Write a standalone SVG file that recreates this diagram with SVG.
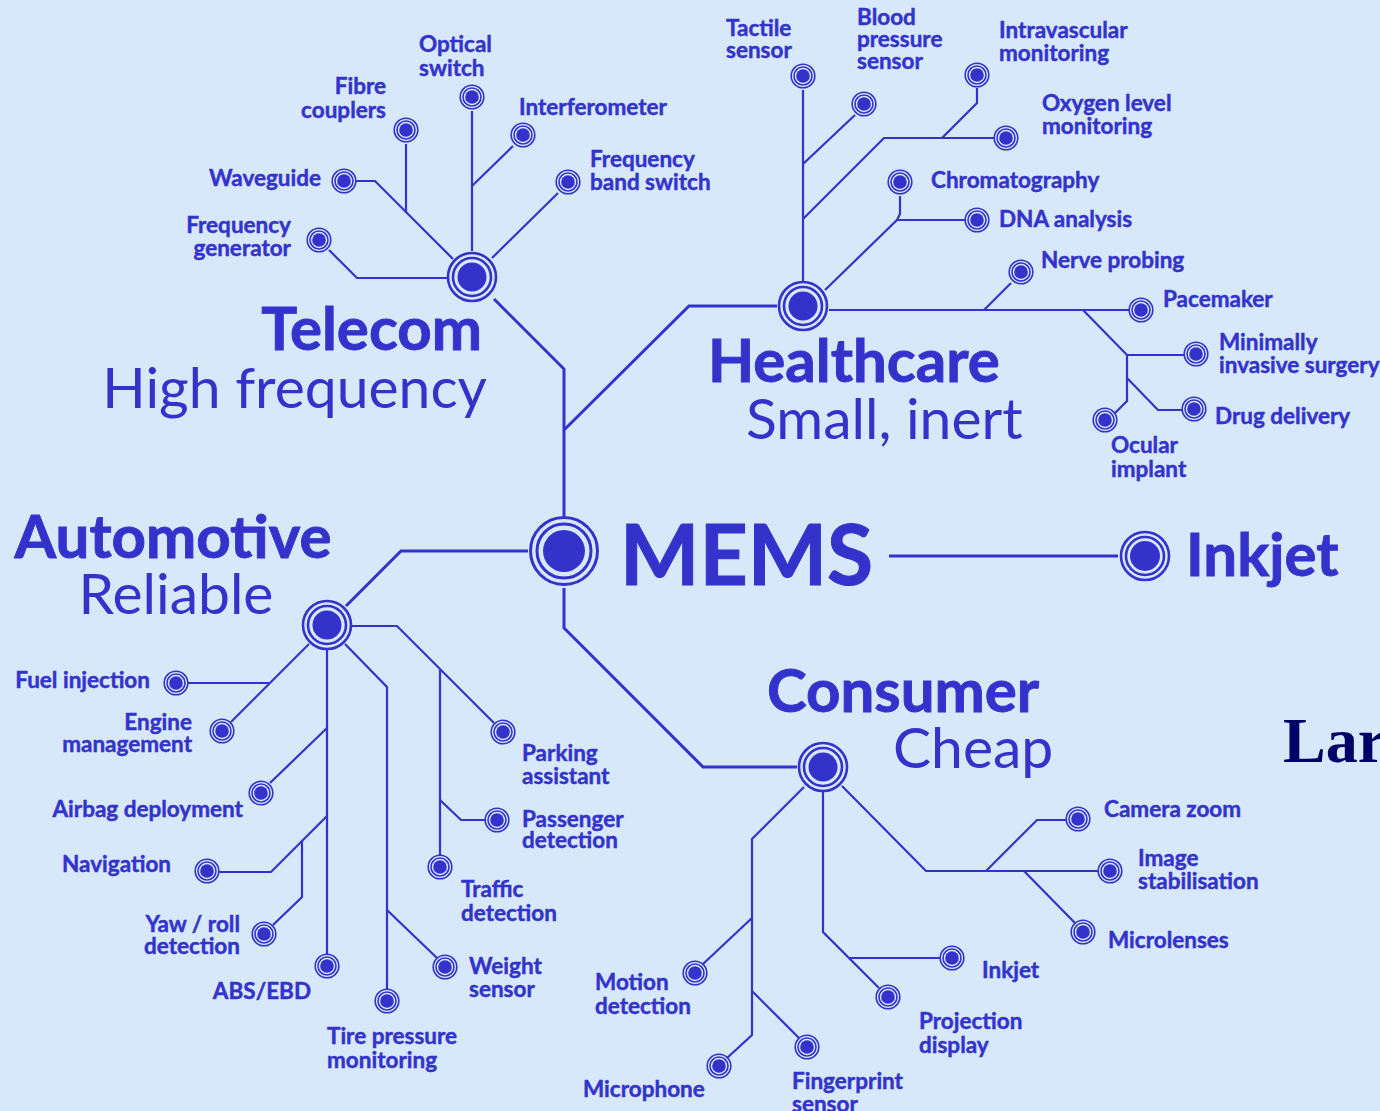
<svg xmlns="http://www.w3.org/2000/svg" xmlns:xlink="http://www.w3.org/1999/xlink" width="1380" height="1111" viewBox="0 0 1380 1111">
  <style>
    .wire { fill: none; stroke: #3333cc; stroke-width: 2.2; stroke-linejoin: miter; }
    .trunk { fill: none; stroke: #3333cc; stroke-width: 3; }
    .lbl { font-family: Lato, "Open Sans", "Liberation Sans", sans-serif; font-weight: 700; font-size: 22.5px; fill: #3333cc; stroke: #3333cc; stroke-width: 0.45; }
    .end { text-anchor: end; }
    .head { font-family: Lato, "Open Sans", "Liberation Sans", sans-serif; font-weight: 700; font-size: 60px; fill: #3333cc; stroke: #3333cc; stroke-width: 0.9; }
    .sub { font-family: Lato, "Open Sans", "Liberation Sans", sans-serif; font-weight: 400; font-size: 57px; fill: #3333cc; }
    .ring { fill: none; stroke: #3333cc; }
    .core { fill: #3333cc; }
  </style>
  <defs>
    <!-- leaf marker: two thin rings around a dot -->
    <g id="dot">
      <circle class="ring" r="11.8" stroke-width="1.6"/>
      <circle class="ring" r="9" stroke-width="1.6"/>
      <circle class="core" r="6.8"/>
    </g>
    <!-- sector hub -->
    <g id="hub">
      <circle class="ring" r="24" stroke-width="2.6"/>
      <circle class="ring" r="19" stroke-width="2.6"/>
      <circle class="core" r="14.5"/>
    </g>
    <!-- central hub -->
    <g id="core-hub">
      <circle class="ring" r="33.5" stroke-width="3"/>
      <circle class="ring" r="27" stroke-width="3"/>
      <circle class="core" r="21"/>
    </g>
  </defs>

  <rect width="1380" height="1111" fill="#d6e8f9"/>

  <!-- connectors -->
  <g id="connectors">
    <!-- trunks from MEMS -->
    <path class="trunk" d="M494,299 L564,369 V516"/>
    <path class="trunk" d="M564,430 L689,306 H777"/>
    <path class="trunk" d="M528,551 H401 L346,606"/>
    <path class="trunk" d="M564,588 V628 L703,767 H797"/>
    <path class="trunk" d="M889,556 H1118"/>

    <!-- telecom -->
    <path class="wire" d="M472,111 V251"/>
    <path class="wire" d="M513,146 L472,186"/>
    <path class="wire" d="M558,193 L492,258"/>
    <path class="wire" d="M406,144 V213"/>
    <path class="wire" d="M356,181 H375 L453,259"/>
    <path class="wire" d="M329,250 L357,278 H447"/>

    <!-- healthcare -->
    <path class="wire" d="M803,90 V281"/>
    <path class="wire" d="M855,115 L803,164"/>
    <path class="wire" d="M977,88 V103 L942,138"/>
    <path class="wire" d="M994,138 H884 L803,219"/>
    <path class="wire" d="M900,196 V214 L897,220 H965"/>
    <path class="wire" d="M897,220 L825,290"/>
    <path class="wire" d="M1011,283 L984,310"/>
    <path class="wire" d="M829,310 H1129"/>
    <path class="wire" d="M1083,310 L1127,355 H1184"/>
    <path class="wire" d="M1127,355 V401 L1115,413"/>
    <path class="wire" d="M1127,378 L1158,410 H1182"/>

    <!-- automotive -->
    <path class="wire" d="M352,626 H397 L494,723"/>
    <path class="wire" d="M440,670 V855"/>
    <path class="wire" d="M440,800 L461,820 H485"/>
    <path class="wire" d="M309,644 L231,722"/>
    <path class="wire" d="M269,683 H188"/>
    <path class="wire" d="M327,650 V954"/>
    <path class="wire" d="M327,728 L270,783"/>
    <path class="wire" d="M327,816 L271,872 H219"/>
    <path class="wire" d="M302,841 V897 L273,925"/>
    <path class="wire" d="M345,644 L387,687 V990"/>
    <path class="wire" d="M387,910 L437,958"/>

    <!-- consumer -->
    <path class="wire" d="M804,787 L752,839 V1035 L727,1058"/>
    <path class="wire" d="M752,918 L703,964"/>
    <path class="wire" d="M752,991 L799,1038"/>
    <path class="wire" d="M823,792 V932 L879,988"/>
    <path class="wire" d="M850,958 H940"/>
    <path class="wire" d="M842,786 L926,871 H1098"/>
    <path class="wire" d="M986,871 L1037,820 H1066"/>
    <path class="wire" d="M1024,871 L1075,923"/>
  </g>

  <!-- centre -->
  <g id="mems">
    <use xlink:href="#core-hub" x="564" y="551"/>
    <text x="620" y="585" font-family="Lato, 'Open Sans', sans-serif" font-weight="700" font-size="84" fill="#3333cc" stroke="#3333cc" stroke-width="1">MEMS</text>
  </g>
  <g id="inkjet">
    <circle class="ring" cx="1145" cy="556" r="24" stroke-width="2.6"/>
    <circle class="ring" cx="1145" cy="556" r="19" stroke-width="2.6"/>
    <circle class="core" cx="1145" cy="556" r="15"/>
    <text x="1186" y="576" class="head">Inkjet</text>
  </g>
  <g id="large">
    <text x="1283" y="762" font-family="'Liberation Serif', serif" font-weight="700" font-size="64" fill="#000066">Lar</text>
  </g>

  <!-- telecom sector -->
  <g id="telecom">
    <use xlink:href="#hub" x="472" y="277"/>
    <text class="head end" x="482" y="350">Telecom</text>
    <text class="sub end" x="487" y="408">High frequency</text>
  </g>
  <g id="optical-switch">
    <use xlink:href="#dot" x="472" y="97"/>
    <text class="lbl"><tspan x="419" y="52">Optical</tspan><tspan x="419" y="76">switch</tspan></text>
  </g>
  <g id="fibre-couplers">
    <use xlink:href="#dot" x="406" y="130"/>
    <text class="lbl end"><tspan x="386" y="94">Fibre</tspan><tspan x="386" y="118">couplers</tspan></text>
  </g>
  <g id="interferometer">
    <use xlink:href="#dot" x="523" y="135"/>
    <text class="lbl" x="519" y="115">Interferometer</text>
  </g>
  <g id="frequency-band-switch">
    <use xlink:href="#dot" x="568" y="182"/>
    <text class="lbl"><tspan x="590" y="167">Frequency</tspan><tspan x="590" y="190">band switch</tspan></text>
  </g>
  <g id="waveguide">
    <use xlink:href="#dot" x="344" y="181"/>
    <text class="lbl end" x="321" y="186">Waveguide</text>
  </g>
  <g id="frequency-generator">
    <use xlink:href="#dot" x="319" y="240"/>
    <text class="lbl end"><tspan x="291" y="233">Frequency</tspan><tspan x="291" y="256">generator</tspan></text>
  </g>

  <!-- healthcare sector -->
  <g id="healthcare">
    <use xlink:href="#hub" x="803" y="306"/>
    <text class="head" x="708" y="382">Healthcare</text>
    <text class="sub" x="746" y="439">Small, inert</text>
  </g>
  <g id="tactile-sensor">
    <use xlink:href="#dot" x="803" y="76"/>
    <text class="lbl"><tspan x="726" y="36">Tactile</tspan><tspan x="726" y="58">sensor</tspan></text>
  </g>
  <g id="blood-pressure-sensor">
    <use xlink:href="#dot" x="864" y="104"/>
    <text class="lbl"><tspan x="857" y="25">Blood</tspan><tspan x="857" y="47">pressure</tspan><tspan x="857" y="69">sensor</tspan></text>
  </g>
  <g id="intravascular-monitoring">
    <use xlink:href="#dot" x="977" y="75"/>
    <text class="lbl"><tspan x="999" y="38">Intravascular</tspan><tspan x="999" y="61">monitoring</tspan></text>
  </g>
  <g id="oxygen-level-monitoring">
    <use xlink:href="#dot" x="1006" y="138"/>
    <text class="lbl"><tspan x="1042" y="111">Oxygen level</tspan><tspan x="1042" y="134">monitoring</tspan></text>
  </g>
  <g id="chromatography">
    <use xlink:href="#dot" x="900" y="182"/>
    <text class="lbl" x="931" y="188">Chromatography</text>
  </g>
  <g id="dna-analysis">
    <use xlink:href="#dot" x="977" y="220"/>
    <text class="lbl" x="999" y="227">DNA analysis</text>
  </g>
  <g id="nerve-probing">
    <use xlink:href="#dot" x="1021" y="272"/>
    <text class="lbl" x="1041" y="268">Nerve probing</text>
  </g>
  <g id="pacemaker">
    <use xlink:href="#dot" x="1141" y="310"/>
    <text class="lbl" x="1163" y="307">Pacemaker</text>
  </g>
  <g id="minimally-invasive-surgery">
    <use xlink:href="#dot" x="1196" y="354"/>
    <text class="lbl"><tspan x="1219" y="350">Minimally</tspan><tspan x="1219" y="373">invasive surgery</tspan></text>
  </g>
  <g id="drug-delivery">
    <use xlink:href="#dot" x="1194" y="409"/>
    <text class="lbl" x="1215" y="424">Drug delivery</text>
  </g>
  <g id="ocular-implant">
    <use xlink:href="#dot" x="1105" y="420"/>
    <text class="lbl"><tspan x="1111" y="453">Ocular</tspan><tspan x="1111" y="477">implant</tspan></text>
  </g>

  <!-- automotive sector -->
  <g id="automotive">
    <use xlink:href="#hub" x="327" y="625"/>
    <text class="head" x="173" y="558" text-anchor="middle">Automotive</text>
    <text class="sub" x="176" y="614" text-anchor="middle">Reliable</text>
  </g>
  <g id="fuel-injection">
    <use xlink:href="#dot" x="176" y="683"/>
    <text class="lbl end" x="150" y="688">Fuel injection</text>
  </g>
  <g id="engine-management">
    <use xlink:href="#dot" x="222" y="731"/>
    <text class="lbl end"><tspan x="192" y="730">Engine</tspan><tspan x="192" y="752">management</tspan></text>
  </g>
  <g id="airbag-deployment">
    <use xlink:href="#dot" x="261" y="793"/>
    <text class="lbl end" x="243" y="817">Airbag deployment</text>
  </g>
  <g id="navigation">
    <use xlink:href="#dot" x="207" y="871"/>
    <text class="lbl end" x="171" y="872">Navigation</text>
  </g>
  <g id="yaw-roll-detection">
    <use xlink:href="#dot" x="264" y="934"/>
    <text class="lbl end"><tspan x="240" y="932">Yaw / roll</tspan><tspan x="240" y="954">detection</tspan></text>
  </g>
  <g id="abs-ebd">
    <use xlink:href="#dot" x="327" y="966"/>
    <text class="lbl end" x="311" y="999">ABS/EBD</text>
  </g>
  <g id="tire-pressure-monitoring">
    <use xlink:href="#dot" x="387" y="1001"/>
    <text class="lbl"><tspan x="327" y="1044">Tire pressure</tspan><tspan x="327" y="1068">monitoring</tspan></text>
  </g>
  <g id="weight-sensor">
    <use xlink:href="#dot" x="445" y="967"/>
    <text class="lbl"><tspan x="469" y="974">Weight</tspan><tspan x="469" y="997">sensor</tspan></text>
  </g>
  <g id="traffic-detection">
    <use xlink:href="#dot" x="440" y="867"/>
    <text class="lbl"><tspan x="461" y="897">Traffic</tspan><tspan x="461" y="921">detection</tspan></text>
  </g>
  <g id="passenger-detection">
    <use xlink:href="#dot" x="497" y="820"/>
    <text class="lbl"><tspan x="522" y="827">Passenger</tspan><tspan x="522" y="848">detection</tspan></text>
  </g>
  <g id="parking-assistant">
    <use xlink:href="#dot" x="503" y="732"/>
    <text class="lbl"><tspan x="522" y="761">Parking</tspan><tspan x="522" y="784">assistant</tspan></text>
  </g>

  <!-- consumer sector -->
  <g id="consumer">
    <use xlink:href="#hub" x="823" y="767"/>
    <text class="head" x="767" y="712">Consumer</text>
    <text class="sub" x="893" y="768">Cheap</text>
  </g>
  <g id="camera-zoom">
    <use xlink:href="#dot" x="1078" y="819"/>
    <text class="lbl" x="1104" y="817">Camera zoom</text>
  </g>
  <g id="image-stabilisation">
    <use xlink:href="#dot" x="1110" y="871"/>
    <text class="lbl"><tspan x="1138" y="866">Image</tspan><tspan x="1138" y="889">stabilisation</tspan></text>
  </g>
  <g id="microlenses">
    <use xlink:href="#dot" x="1083" y="932"/>
    <text class="lbl" x="1108" y="948">Microlenses</text>
  </g>
  <g id="inkjet-printing">
    <use xlink:href="#dot" x="952" y="958"/>
    <text class="lbl" x="982" y="978">Inkjet</text>
  </g>
  <g id="projection-display">
    <use xlink:href="#dot" x="888" y="997"/>
    <text class="lbl"><tspan x="919" y="1029">Projection</tspan><tspan x="919" y="1053">display</tspan></text>
  </g>
  <g id="fingerprint-sensor">
    <use xlink:href="#dot" x="807" y="1047"/>
    <text class="lbl"><tspan x="792" y="1089">Fingerprint</tspan><tspan x="792" y="1112">sensor</tspan></text>
  </g>
  <g id="microphone">
    <use xlink:href="#dot" x="719" y="1066"/>
    <text class="lbl" x="583" y="1097">Microphone</text>
  </g>
  <g id="motion-detection">
    <use xlink:href="#dot" x="695" y="973"/>
    <text class="lbl"><tspan x="595" y="990">Motion</tspan><tspan x="595" y="1014">detection</tspan></text>
  </g>
</svg>
